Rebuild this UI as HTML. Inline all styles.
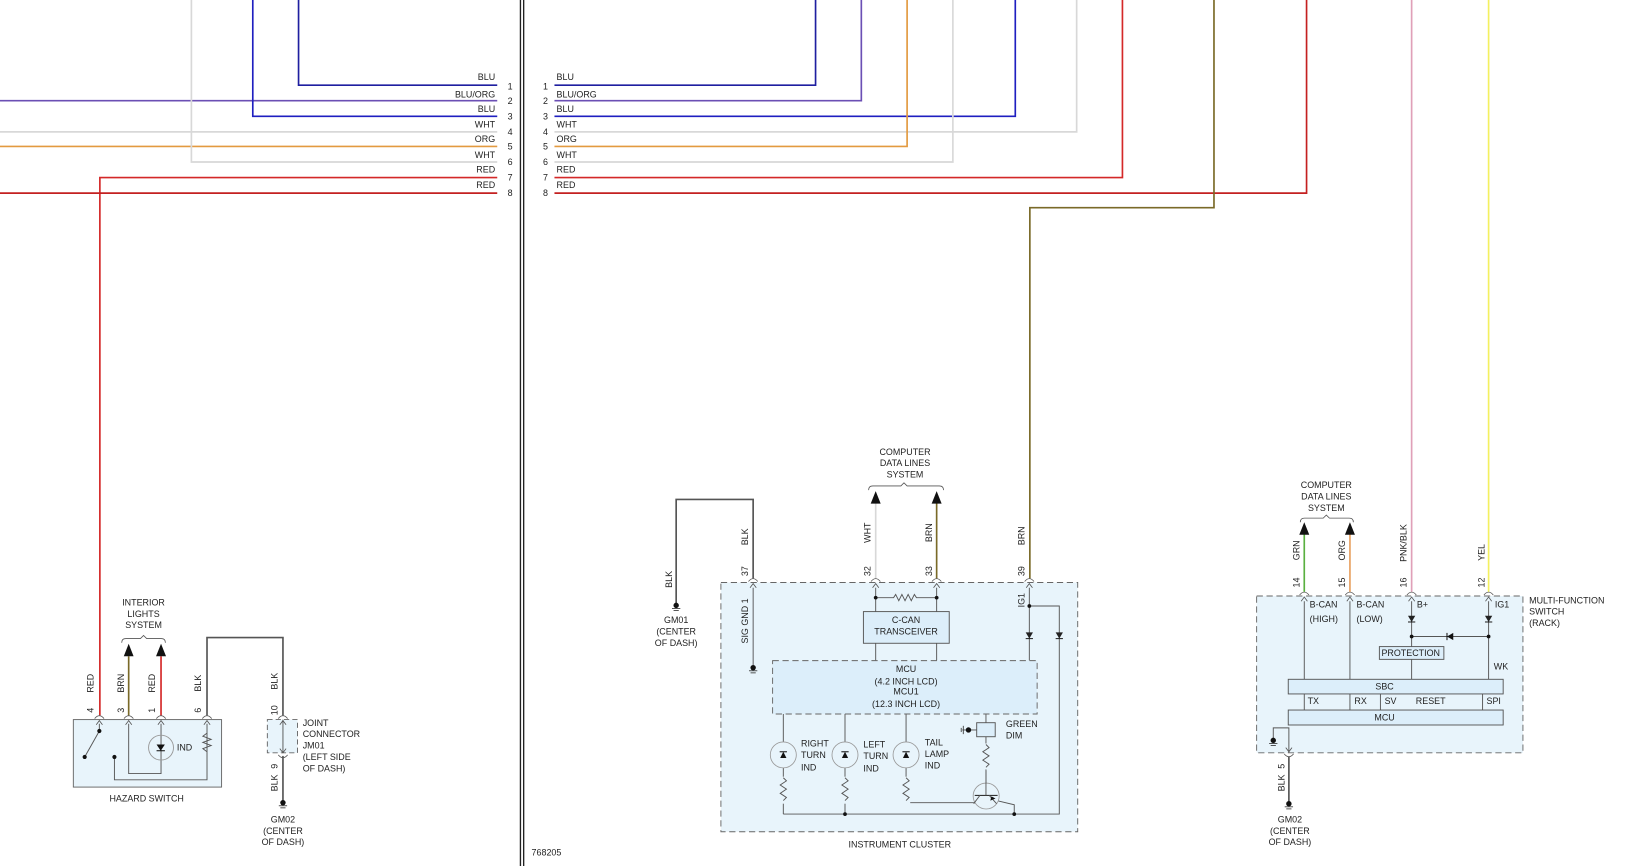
<!DOCTYPE html>
<html><head><meta charset="utf-8"><style>
html,body{margin:0;padding:0;background:#fff;width:1628px;height:866px;overflow:hidden}
svg{display:block}
text{font-family:"Liberation Sans",sans-serif;font-size:8.6px;fill:#222}
</style></head><body>
<svg width="1628" height="866" viewBox="0 0 1565 834" preserveAspectRatio="none" xmlns="http://www.w3.org/2000/svg">
<defs>
<g id="pin"><path d="M-4.5,2 Q0,-3.5 4.5,2" fill="none" stroke="#555" stroke-width="0.8"/><path d="M-3,8 L0,4 L3,8" fill="none" stroke="#555" stroke-width="0.8"/></g>
<g id="pinb"><path d="M-4.5,-2 Q0,3.5 4.5,-2" fill="none" stroke="#555" stroke-width="0.8"/><path d="M-3,-8 L0,-4 L3,-8" fill="none" stroke="#555" stroke-width="0.8"/></g>
<g id="gnd"><circle cx="0" cy="0" r="2.6" fill="#111"/><line x1="-4" y1="3" x2="4" y2="3" stroke="#333" stroke-width="0.8"/><line x1="-2.5" y1="5" x2="2.5" y2="5" stroke="#333" stroke-width="0.8"/></g>
<g id="diode"><path d="M-3.5,-3 L3.5,-3 L0,3 Z" fill="#222"/><line x1="-3.5" y1="3" x2="3.5" y2="3" stroke="#222" stroke-width="1"/></g>
</defs>

<!-- divider -->
<line x1="500.3" y1="0" x2="500.3" y2="834" stroke="#222" stroke-width="1.3"/>
<line x1="503.4" y1="0" x2="503.4" y2="834" stroke="#222" stroke-width="1.3"/>

<!-- LEFT top wires -->
<g fill="none" stroke-width="1.6">
<polyline points="287,0 287,82 478,82" stroke="#1f1fa0"/>
<polyline points="0,97 478,97" stroke="#6b4fb4"/>
<polyline points="243,0 243,112 478,112" stroke="#1f1fc0"/>
<polyline points="0,127 478,127" stroke="#d8d8d8"/>
<polyline points="0,141 478,141" stroke="#e39a40"/>
<polyline points="184,0 184,156 478,156" stroke="#d8d8d8"/>
<polyline points="478,171 96,171 96,689" stroke="#d42828"/>
<polyline points="0,186 478,186" stroke="#c42020"/>
</g>
<g text-anchor="end">
<text x="476" y="77">BLU</text><text x="476" y="94">BLU/ORG</text><text x="476" y="108">BLU</text>
<text x="476" y="123">WHT</text><text x="476" y="137">ORG</text><text x="476" y="152">WHT</text>
<text x="476" y="166">RED</text><text x="476" y="181">RED</text>
</g>
<g>
<text x="488" y="86">1</text><text x="488" y="100">2</text><text x="488" y="115">3</text><text x="488" y="130">4</text>
<text x="488" y="144">5</text><text x="488" y="159">6</text><text x="488" y="174">7</text><text x="488" y="189">8</text>
<text x="522" y="86">1</text><text x="522" y="100">2</text><text x="522" y="115">3</text><text x="522" y="130">4</text>
<text x="522" y="144">5</text><text x="522" y="159">6</text><text x="522" y="174">7</text><text x="522" y="189">8</text>
<text x="535" y="77">BLU</text><text x="535" y="94">BLU/ORG</text><text x="535" y="108">BLU</text>
<text x="535" y="123">WHT</text><text x="535" y="137">ORG</text><text x="535" y="152">WHT</text>
<text x="535" y="166">RED</text><text x="535" y="181">RED</text>
</g>

<!-- RIGHT top wires -->
<g fill="none" stroke-width="1.6">
<polyline points="533,82 784,82 784,0" stroke="#1f1fa0"/>
<polyline points="533,97 828,97 828,0" stroke="#6b4fb4"/>
<polyline points="533,112 976,112 976,0" stroke="#1f1fc0"/>
<polyline points="533,127 1035,127 1035,0" stroke="#d8d8d8"/>
<polyline points="533,141 872,141 872,0" stroke="#e39a40"/>
<polyline points="533,156 916,156 916,0" stroke="#d8d8d8"/>
<polyline points="533,171 1079,171 1079,0" stroke="#d42828"/>
<polyline points="533,186 1256,186 1256,0" stroke="#c42020"/>
<polyline points="1167,0 1167,200 990,200 990,557" stroke="#7a6a28"/>
<line x1="1357" y1="0" x2="1357" y2="570" stroke="#e0a0b8"/>
<line x1="1431" y1="0" x2="1431" y2="570" stroke="#f4f060"/>
</g>

<!-- HAZARD SWITCH -->
<rect x="70.5" y="693" width="142.5" height="65" fill="#e8f4fb" stroke="#666" stroke-width="0.9"/>
<g fill="none" stroke-width="1.6">
<line x1="123.7" y1="632" x2="123.7" y2="689" stroke="#7a6a28"/>
<line x1="154.8" y1="632" x2="154.8" y2="689" stroke="#d42828"/>
<polyline points="199,689 199,614 272,614 272,689" stroke="#555"/>
<line x1="272" y1="728" x2="272" y2="772" stroke="#555"/>
</g>
<path d="M119,632 L123.7,620 L128.4,632 Z" fill="#111"/>
<path d="M150,632 L154.8,620 L159.6,632 Z" fill="#111"/>
<path d="M117,619 Q117,615 121,615 L135,615 L138,612 L141,615 L155,615 Q159,615 159,619" fill="none" stroke="#555" stroke-width="0.8"/>
<g text-anchor="middle"><text x="138" y="583">INTERIOR</text><text x="138" y="594">LIGHTS</text><text x="138" y="605">SYSTEM</text></g>
<use href="#pin" x="95.5" y="690"/><use href="#pin" x="123.7" y="690"/><use href="#pin" x="154.8" y="690"/><use href="#pin" x="199" y="690"/>
<g text-anchor="middle">
<text transform="translate(90,684) rotate(-90)">4</text><text transform="translate(90,658) rotate(-90)">RED</text>
<text transform="translate(119,684) rotate(-90)">3</text><text transform="translate(119,658) rotate(-90)">BRN</text>
<text transform="translate(149,684) rotate(-90)">1</text><text transform="translate(149,658) rotate(-90)">RED</text>
<text transform="translate(193,684) rotate(-90)">6</text><text transform="translate(193,658) rotate(-90)">BLK</text>
<text transform="translate(267,684) rotate(-90)">10</text><text transform="translate(267,656) rotate(-90)">BLK</text>
<text transform="translate(267,738) rotate(-90)">9</text><text transform="translate(267,754) rotate(-90)">BLK</text>
</g>
<g fill="none" stroke="#555" stroke-width="0.9">
<line x1="95.5" y1="697" x2="95.5" y2="704"/>
<line x1="95.5" y1="704" x2="81.4" y2="729"/>
<polyline points="110,729 110,751 199,751 199,697"/>
<polyline points="199,706 195,709 203,712 195,715 203,718 195,721 199,724"/>
<polyline points="123.7,697 123.7,745 154.8,745 154.8,697"/>
<circle cx="154.8" cy="720" r="12" stroke="#999"/>
</g>
<circle cx="95.5" cy="704" r="2" fill="#111"/><circle cx="81.4" cy="729" r="2" fill="#111"/><circle cx="110" cy="729" r="2" fill="#111"/>
<path d="M150.5,717 L158.5,717 L154.5,723 Z" fill="#111"/><line x1="150.5" y1="723" x2="158.5" y2="723" stroke="#111"/>
<text x="170" y="723">IND</text>
<text x="141" y="772" text-anchor="middle">HAZARD SWITCH</text>

<!-- JM01 -->
<rect x="257" y="693" width="29" height="32" fill="#e8f4fb" stroke="#666" stroke-width="0.9" stroke-dasharray="5,3"/>
<line x1="272" y1="693" x2="272" y2="725" stroke="#555" stroke-width="0.9"/>
<use href="#pin" x="272" y="690"/><use href="#pinb" x="272" y="729"/>
<use href="#gnd" x="272" y="773"/>
<g><text x="291" y="699">JOINT</text><text x="291" y="710">CONNECTOR</text><text x="291" y="721">JM01</text><text x="291" y="732">(LEFT SIDE</text><text x="291" y="743">OF DASH)</text></g>
<g text-anchor="middle"><text x="272" y="792">GM02</text><text x="272" y="803">(CENTER</text><text x="272" y="814">OF DASH)</text></g>

<!-- INSTRUMENT CLUSTER -->
<rect x="693" y="561" width="343" height="240" fill="#e8f4fb" stroke="#666" stroke-width="0.9" stroke-dasharray="6,3.5"/>
<g fill="none" stroke-width="1.6">
<polyline points="724,557 724,481 650,481 650,581" stroke="#555"/>
<line x1="841.8" y1="484" x2="841.8" y2="557" stroke="#d8d8d8"/>
<line x1="900.4" y1="484" x2="900.4" y2="557" stroke="#7a6a28"/>
</g>
<path d="M837,485 L841.8,473 L846.6,485 Z" fill="#111"/>
<path d="M895.6,485 L900.4,473 L905.2,485 Z" fill="#111"/>
<path d="M835,472 Q835,468 839,468 L866,468 L869,465 L872,468 L903,468 Q907,468 907,472" fill="none" stroke="#555" stroke-width="0.8"/>
<g text-anchor="middle"><text x="870" y="438">COMPUTER</text><text x="870" y="449">DATA LINES</text><text x="870" y="460">SYSTEM</text></g>
<use href="#gnd" x="650" y="583"/>
<g text-anchor="middle"><text x="650" y="600">GM01</text><text x="650" y="611">(CENTER</text><text x="650" y="622">OF DASH)</text></g>
<use href="#pin" x="724" y="558"/><use href="#pin" x="841.8" y="558"/><use href="#pin" x="900.4" y="558"/><use href="#pin" x="989.5" y="558"/>
<g text-anchor="middle">
<text transform="translate(646,558) rotate(-90)">BLK</text>
<text transform="translate(719,550) rotate(-90)">37</text><text transform="translate(719,517) rotate(-90)">BLK</text>
<text transform="translate(837,550) rotate(-90)">32</text><text transform="translate(837,513) rotate(-90)">WHT</text>
<text transform="translate(896,550) rotate(-90)">33</text><text transform="translate(896,513) rotate(-90)">BRN</text>
<text transform="translate(985,550) rotate(-90)">39</text><text transform="translate(985,516) rotate(-90)">BRN</text>
<text transform="translate(719,598) rotate(-90)">SIG GND 1</text>
<text transform="translate(985,578) rotate(-90)">IG1</text>
</g>
<g fill="none" stroke="#555" stroke-width="0.9">
<line x1="724" y1="566" x2="724" y2="641"/>
<polyline points="841.8,566 841.8,589"/><polyline points="900.4,566 900.4,589"/>
<polyline points="841.8,575.6 859,575.6 861,572.5 864,578.5 867,572.5 870,578.5 873,572.5 876,578.5 879,572.5 881,575.6 900.4,575.6"/>
<line x1="841.8" y1="619.5" x2="841.8" y2="636"/><line x1="900.4" y1="619.5" x2="900.4" y2="636"/>
<polyline points="989.5,566 989.5,636"/>
<polyline points="989.5,583.6 1018.3,583.6 1018.3,784 753,784"/>
<line x1="753" y1="687.6" x2="753" y2="784"/>
<line x1="812.3" y1="687.6" x2="812.3" y2="784"/>
<polyline points="871,687.6 871,773 938,773"/>
<polyline points="947.8,687.6 947.8,696"/>
<polyline points="947.8,709.5 947.8,762"/>
<polyline points="954,770 975,775 975,784"/>
<line x1="925" y1="703" x2="939" y2="703"/>
</g>
<use href="#gnd" x="724" y="643"/>
<circle cx="989.5" cy="583.6" r="1.8" fill="#111"/>
<circle cx="841.8" cy="575.6" r="1.8" fill="#111"/><circle cx="900.4" cy="575.6" r="1.8" fill="#111"/>
<use href="#diode" x="989.5" y="612"/><use href="#diode" x="1018.3" y="612"/>
<rect x="830" y="589" width="82.5" height="30.5" fill="#dceefa" stroke="#555" stroke-width="0.9"/>
<g text-anchor="middle"><text x="871" y="600">C-CAN</text><text x="871" y="611">TRANSCEIVER</text></g>
<rect x="742.7" y="636.2" width="254.3" height="51.4" fill="#dceefa" stroke="#666" stroke-width="0.9" stroke-dasharray="6,3.5"/>
<g text-anchor="middle"><text x="871" y="647">MCU</text><text x="871" y="659">(4.2 INCH LCD)</text><text x="871" y="669">MCU1</text><text x="871" y="681">(12.3 INCH LCD)</text></g>
<!-- LEDs -->
<g fill="#e8f4fb" stroke="#999" stroke-width="0.8">
<circle cx="753" cy="727" r="12.5"/><circle cx="812.3" cy="727" r="12.5"/><circle cx="871" cy="727" r="12.5"/>
</g>
<g fill="#111">
<path d="M750,730 L756,730 L753,724 Z"/><path d="M809.3,730 L815.3,730 L812.3,724 Z"/><path d="M868,730 L874,730 L871,724 Z"/>
</g>
<g stroke="#111" stroke-width="1"><line x1="749.5" y1="724" x2="756.5" y2="724"/><line x1="808.8" y1="724" x2="815.8" y2="724"/><line x1="867.5" y1="724" x2="874.5" y2="724"/></g>
<g fill="#e8f4fb" stroke="#555" stroke-width="0.9">
<rect x="749" y="748" width="8" height="26" stroke="none"/><rect x="808.3" y="748" width="8" height="26" stroke="none"/><rect x="867" y="748" width="8" height="26" stroke="none"/>
<rect x="943.8" y="716" width="8" height="26" stroke="none"/>
</g>
<g fill="none" stroke="#555" stroke-width="0.9">
<polyline points="753,749 756,752 750,756 756,760 750,764 756,768 753,771"/>
<polyline points="812.3,749 815.3,752 809.3,756 815.3,760 809.3,764 815.3,768 812.3,771"/>
<polyline points="871,749 874,752 868,756 874,760 868,764 874,768 871,771"/>
<polyline points="947.8,717 950.8,720 944.8,724 950.8,728 944.8,732 950.8,736 947.8,739"/>
</g>
<rect x="938.9" y="696" width="17.8" height="13.5" fill="#dceefa" stroke="#555" stroke-width="0.9"/>
<circle cx="931" cy="703" r="2.6" fill="#111"/>
<line x1="926" y1="699" x2="926" y2="707" stroke="#333" stroke-width="0.8"/><line x1="924" y1="701" x2="924" y2="705" stroke="#333" stroke-width="0.8"/>
<circle cx="948" cy="766.6" r="12.5" fill="#e8f4fb" stroke="#999" stroke-width="0.8"/>
<line x1="937" y1="766" x2="959" y2="766" stroke="#333" stroke-width="1.1"/>
<line x1="947.8" y1="741" x2="947.8" y2="766" stroke="#555" stroke-width="0.9"/>
<line x1="942" y1="766" x2="936" y2="774" stroke="#555" stroke-width="0.9"/>
<line x1="951" y1="766" x2="958" y2="774" stroke="#555" stroke-width="0.9"/>
<path d="M953,767 L957,769 L952,771 Z" fill="#111"/>
<circle cx="812.3" cy="784" r="1.8" fill="#111"/><circle cx="975" cy="784" r="1.8" fill="#111"/>
<g><text x="770" y="719">RIGHT</text><text x="770" y="730">TURN</text><text x="770" y="742">IND</text>
<text x="830" y="720">LEFT</text><text x="830" y="731">TURN</text><text x="830" y="743">IND</text>
<text x="889" y="718">TAIL</text><text x="889" y="729">LAMP</text><text x="889" y="740">IND</text>
<text x="967" y="700">GREEN</text><text x="967" y="711">DIM</text></g>
<text x="865" y="816" text-anchor="middle">INSTRUMENT CLUSTER</text>

<!-- MULTI-FUNCTION SWITCH -->
<rect x="1208" y="574" width="256" height="151" fill="#e8f4fb" stroke="#666" stroke-width="0.9" stroke-dasharray="6,3.5"/>
<g fill="none" stroke-width="1.6">
<line x1="1253.8" y1="514" x2="1253.8" y2="570" stroke="#5ab040"/>
<line x1="1297.7" y1="514" x2="1297.7" y2="570" stroke="#e8a060"/>
<line x1="1239" y1="729" x2="1239" y2="772" stroke="#555"/>
</g>
<path d="M1249,515 L1253.8,503 L1258.6,515 Z" fill="#111"/>
<path d="M1292.9,515 L1297.7,503 L1302.5,515 Z" fill="#111"/>
<path d="M1250,503 Q1250,499 1254,499 L1272,499 L1275,496 L1278,499 L1297,499 Q1301,499 1301,503" fill="none" stroke="#555" stroke-width="0.8"/>
<g text-anchor="middle"><text x="1275" y="470">COMPUTER</text><text x="1275" y="481">DATA LINES</text><text x="1275" y="492">SYSTEM</text></g>
<use href="#pin" x="1253.8" y="571"/><use href="#pin" x="1297.7" y="571"/><use href="#pin" x="1357" y="571"/><use href="#pin" x="1431" y="571"/>
<use href="#pinb" x="1239" y="728"/>
<g text-anchor="middle">
<text transform="translate(1249,561) rotate(-90)">14</text><text transform="translate(1249,530) rotate(-90)">GRN</text>
<text transform="translate(1293,561) rotate(-90)">15</text><text transform="translate(1293,530) rotate(-90)">ORG</text>
<text transform="translate(1352,561) rotate(-90)">16</text><text transform="translate(1352,523) rotate(-90)">PNK/BLK</text>
<text transform="translate(1427,561) rotate(-90)">12</text><text transform="translate(1427,532) rotate(-90)">YEL</text>
<text transform="translate(1235,738) rotate(-90)">5</text><text transform="translate(1235,754) rotate(-90)">BLK</text>
</g>
<g fill="none" stroke="#555" stroke-width="0.9">
<line x1="1253.8" y1="579" x2="1253.8" y2="684"/>
<line x1="1297.7" y1="579" x2="1297.7" y2="684"/>
<line x1="1357" y1="579" x2="1357" y2="654"/>
<line x1="1431" y1="579" x2="1431" y2="654"/>
<line x1="1357" y1="613" x2="1431" y2="613"/>
<polyline points="1239,725 1239,701 1224,701 1224,711"/>
<line x1="1327" y1="668" x2="1327" y2="684"/><line x1="1425.2" y1="668" x2="1425.2" y2="684"/>
</g>
<use href="#diode" x="1357" y="596"/><use href="#diode" x="1431" y="596"/>
<path d="M1391,613 L1397,609.5 L1397,616.5 Z" fill="#111"/><line x1="1391" y1="609.5" x2="1391" y2="616.5" stroke="#111"/>
<circle cx="1357" cy="613" r="1.8" fill="#111"/><circle cx="1431" cy="613" r="1.8" fill="#111"/>
<rect x="1326" y="622.7" width="62" height="12.3" fill="#dceefa" stroke="#555" stroke-width="0.9"/>
<text x="1328" y="632">PROTECTION</text>
<rect x="1238.4" y="654.2" width="206.6" height="14.1" fill="#dceefa" stroke="#555" stroke-width="0.9"/>
<rect x="1238.4" y="683.8" width="206.6" height="14.4" fill="#dceefa" stroke="#555" stroke-width="0.9"/>
<g text-anchor="middle"><text x="1331" y="664">SBC</text><text x="1331" y="694">MCU</text></g>
<g><text x="1257" y="678">TX</text><text x="1302" y="678">RX</text><text x="1331" y="678">SV</text><text x="1361" y="678">RESET</text><text x="1429" y="678">SPI</text>
<text x="1436" y="645">WK</text>
<text x="1259" y="585">B-CAN</text><text x="1259" y="599">(HIGH)</text>
<text x="1304" y="585">B-CAN</text><text x="1304" y="599">(LOW)</text>
<text x="1362" y="585">B+</text><text x="1437" y="585">IG1</text>
<text x="1470" y="581">MULTI-FUNCTION</text><text x="1470" y="592">SWITCH</text><text x="1470" y="603">(RACK)</text></g>
<use href="#gnd" x="1224" y="713"/>
<use href="#gnd" x="1239" y="774"/>
<g text-anchor="middle"><text x="1240" y="792">GM02</text><text x="1240" y="803">(CENTER</text><text x="1240" y="814">OF DASH)</text></g>

<text x="511" y="824">768205</text>
</svg>
</body></html>
